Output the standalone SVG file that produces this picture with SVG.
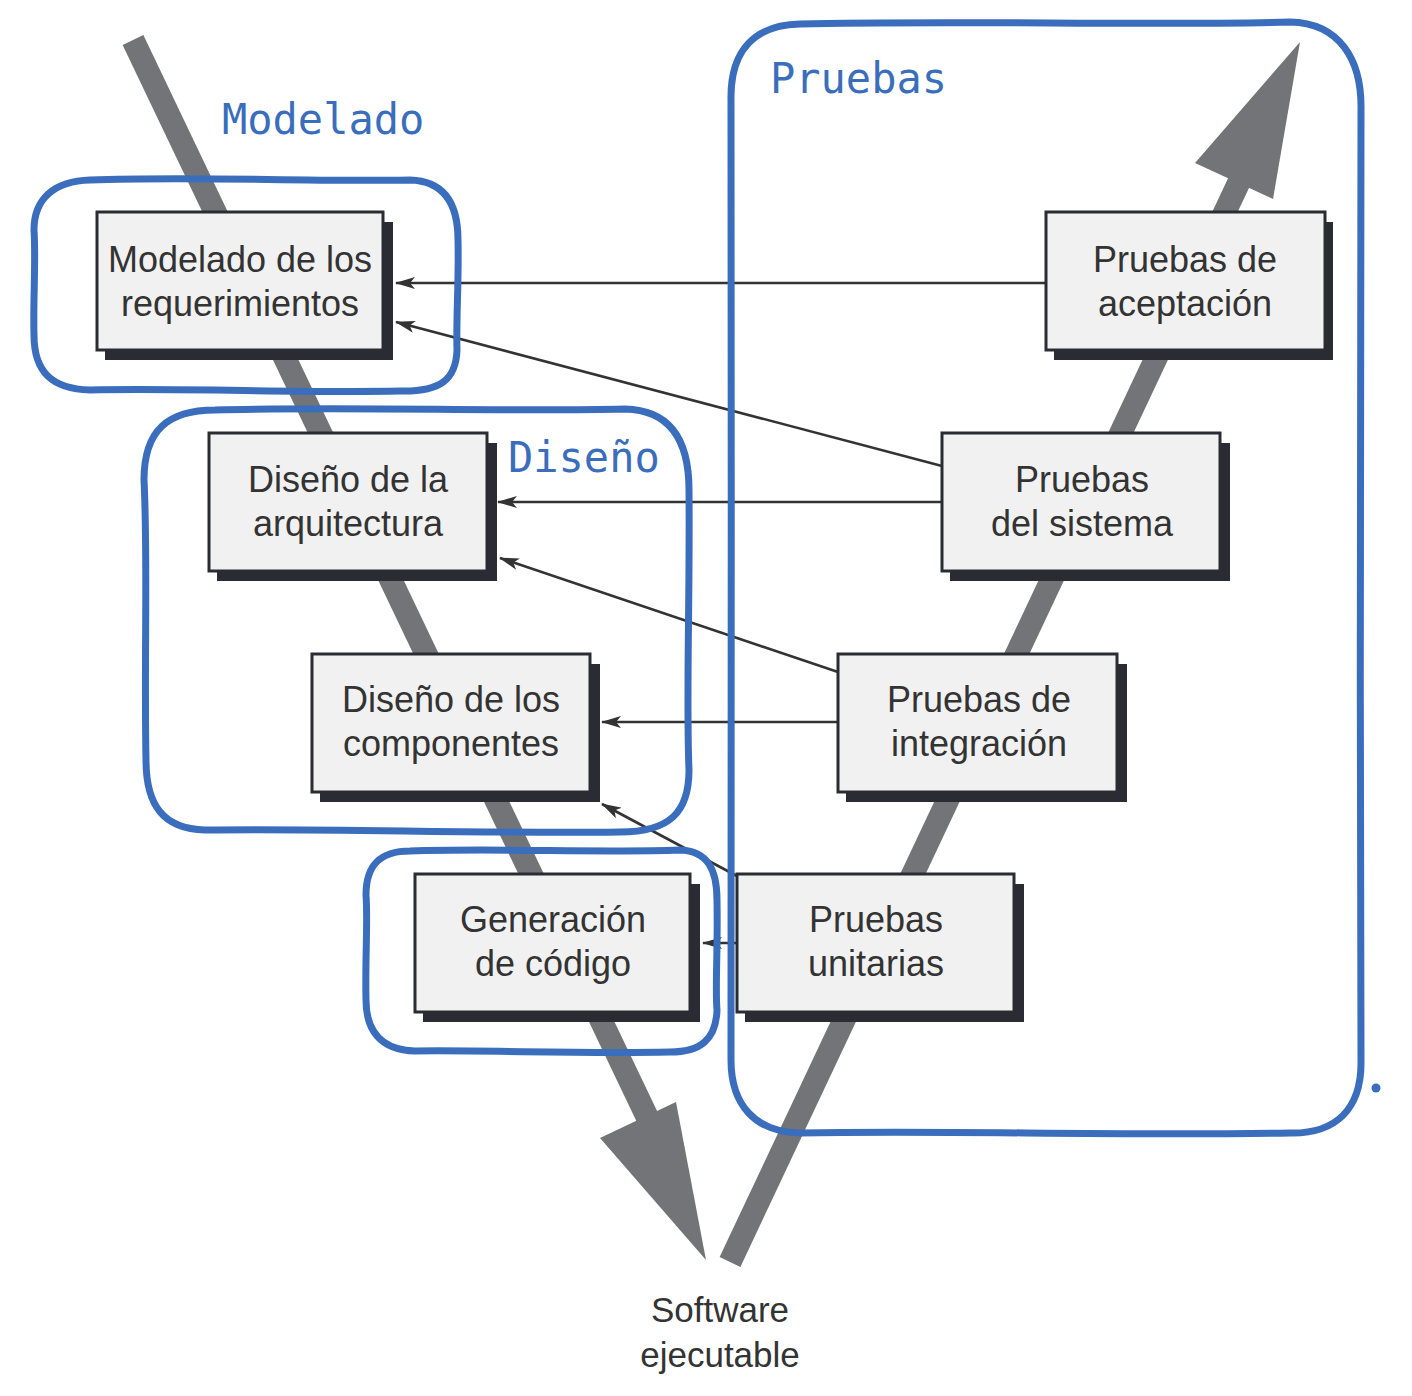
<svg xmlns="http://www.w3.org/2000/svg" width="1412" height="1396" viewBox="0 0 1412 1396">
<style>
.band{stroke:#737477;stroke-width:23;fill:none}
.head{fill:#737477}
.shadow{fill:#2b2c33}
.box{fill:#f1f1f1;stroke:#2b2c33;stroke-width:3}
.bt{font-family:"Liberation Sans",Arial,sans-serif;font-size:36px;fill:#333;text-anchor:middle}
.conn{stroke:#333;stroke-width:2.6;fill:none;marker-end:url(#ah)}
.blue{fill:none;stroke:#3a6ebd;stroke-width:7;stroke-linecap:round;stroke-linejoin:round}
.lbl{font-family:"DejaVu Sans Mono","Liberation Mono",monospace;font-size:42px;fill:#3a6ebd}
</style>
<defs>
<marker id="ah" viewBox="0 0 20 12" refX="19" refY="6" markerWidth="20" markerHeight="12" markerUnits="userSpaceOnUse" orient="auto">
<path d="M0,0 L20,6 L0,12 L5,6 Z" fill="#333"/>
</marker>
</defs>
<g id="bands">
<line class="band" x1="133" y1="40" x2="651" y2="1125"/>
<polygon class="head" points="600,1138 676,1102 706,1260"/>
<line class="band" x1="730" y1="1262" x2="1240" y2="180"/>
<polygon class="head" points="1195,163 1273,199 1300,42"/>
</g>
<g id="connectors">
<line class="conn" x1="1046" y1="283" x2="396" y2="283"/>
<line class="conn" x1="942" y1="466" x2="396" y2="322"/>
<line class="conn" x1="942" y1="502" x2="498" y2="502"/>
<line class="conn" x1="838" y1="672" x2="500" y2="558"/>
<line class="conn" x1="838" y1="722" x2="602" y2="722"/>
<line class="conn" x1="737" y1="876" x2="602" y2="804"/>
<line class="conn" x1="737" y1="943" x2="703" y2="943"/>
</g>
<g id="n-modelado">
<rect class="shadow" x="105" y="222" width="288" height="138"/>
<rect class="box" x="97" y="212" width="286" height="138"/>
<text class="bt" x="240" y="272">Modelado de los</text>
<text class="bt" x="240" y="316">requerimientos</text>
</g>
<g id="n-aceptacion">
<rect class="shadow" x="1054" y="222" width="279" height="138"/>
<rect class="box" x="1046" y="212" width="279" height="138"/>
<text class="bt" x="1185" y="272">Pruebas de</text>
<text class="bt" x="1185" y="316">aceptación</text>
</g>
<g id="n-arquitectura">
<rect class="shadow" x="217" y="443" width="280" height="138"/>
<rect class="box" x="209" y="433" width="278" height="138"/>
<text class="bt" x="348" y="492">Diseño de la</text>
<text class="bt" x="348" y="536">arquitectura</text>
</g>
<g id="n-sistema">
<rect class="shadow" x="950" y="443" width="280" height="138"/>
<rect class="box" x="942" y="433" width="278" height="138"/>
<text class="bt" x="1082" y="492">Pruebas</text>
<text class="bt" x="1082" y="536">del sistema</text>
</g>
<g id="n-componentes">
<rect class="shadow" x="320" y="664" width="280" height="138"/>
<rect class="box" x="312" y="654" width="278" height="138"/>
<text class="bt" x="451" y="712">Diseño de los</text>
<text class="bt" x="451" y="756">componentes</text>
</g>
<g id="n-integracion">
<rect class="shadow" x="846" y="664" width="281" height="138"/>
<rect class="box" x="838" y="654" width="279" height="138"/>
<text class="bt" x="979" y="712">Pruebas de</text>
<text class="bt" x="979" y="756">integración</text>
</g>
<g id="n-generacion">
<rect class="shadow" x="423" y="884" width="277" height="138"/>
<rect class="box" x="415" y="874" width="275" height="138"/>
<text class="bt" x="553" y="932">Generación</text>
<text class="bt" x="553" y="976">de código</text>
</g>
<g id="n-unitarias">
<rect class="shadow" x="745" y="884" width="279" height="138"/>
<rect class="box" x="737" y="874" width="277" height="138"/>
<text class="bt" x="876" y="932">Pruebas</text>
<text class="bt" x="876" y="976">unitarias</text>
</g>
<g id="n-software">
<text class="bt" x="720" y="1322" style="font-size:35px">Software</text>
<text class="bt" x="720" y="1367" style="font-size:35px">ejecutable</text>
</g>
<g id="groups">
<path class="blue" d="M90,180 C200,176 300,182 410,180 C445,181 458,205 458,240 C459,280 456,320 457,350 C456,380 440,392 400,391 C300,393 190,388 90,390 C52,389 34,372 34,335 C33,300 36,260 34,230 C34,198 55,181 90,180 Z"/>
<path class="blue" d="M215,410 C350,406 500,412 625,409 C670,410 689,440 689,490 C690,600 686,700 689,770 C689,812 670,832 620,832 C480,834 330,828 205,830 C163,829 146,805 146,760 C144,660 148,560 144,480 C144,430 168,410 215,410 Z"/>
<path class="blue" d="M410,851 C500,848 600,853 680,850 C708,851 717,870 717,900 C718,950 715,990 717,1010 C716,1040 700,1052 670,1052 C580,1054 490,1050 415,1051 C380,1050 366,1030 366,1000 C365,960 368,920 366,895 C366,865 380,851 410,851 Z"/>
<path class="blue" d="M800,24 C950,20 1150,26 1290,22 C1340,23 1362,60 1361,110 C1363,400 1358,750 1361,1060 C1362,1110 1335,1134 1290,1133 C1100,1136 950,1130 800,1133 C755,1132 731,1105 731,1060 C729,800 733,400 731,100 C730,50 755,25 800,24 Z"/>
<circle cx="1376" cy="1088" r="4.5" fill="#3a6ebd"/>
</g>
<g id="labels">
<text class="lbl" x="222" y="134">Modelado</text>
<text class="lbl" x="770" y="93">Pruebas</text>
<text class="lbl" x="508" y="472">Diseño</text>
</g>
</svg>
